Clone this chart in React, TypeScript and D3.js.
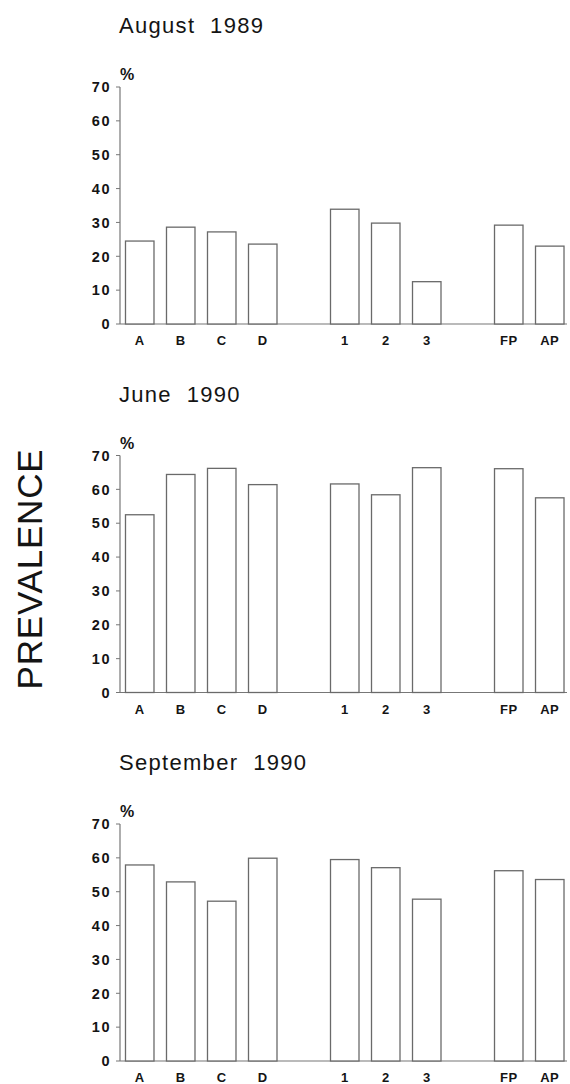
import React from "react";
import * as d3 from "d3";

const slots = ["A", "B", "C", "D", "gap1", "1", "2", "3", "gap2", "FP", "AP"];
const categories = ["A", "B", "C", "D", "1", "2", "3", "FP", "AP"];
const aug1989 = [24.5, 28.6, 27.2, 23.6, 33.9, 29.8, 12.5, 29.2, 23.0];
const jun1990 = [52.5, 64.4, 66.2, 61.4, 61.6, 58.4, 66.4, 66.1, 57.5];
const sep1990 = [57.9, 52.9, 47.2, 59.9, 59.5, 57.1, 47.8, 56.2, 53.6];
const yTicks = [0, 10, 20, 30, 40, 50, 60, 70];
const panelTitles = ["August 1989", "June 1990", "September 1990"];
const panelSeries = [aug1989, jun1990, sep1990];

const W = 570;
const H = 1084;
const axisX = 120;
const panelTops = [87, 455.5, 824];
const plotH = 237;

const x = d3
  .scaleBand<string>()
  .domain(slots)
  .range([axisX, 569.5])
  .paddingInner(0.305)
  .paddingOuter(0.134);

const SANS = "'Liberation Sans', Arial, Helvetica, sans-serif";
const INK = "#141414";
const BAR = "#6a6a6a";

function Panel({ top, title, values }: { top: number; title: string; values: number[] }) {
  const y = d3.scaleLinear().domain([0, 70]).range([top + plotH, top]);
  return (
    <g>
      <text
        x={axisX - 1}
        y={top - 54}
        fontFamily={SANS}
        fontSize={22}
        letterSpacing={1.3}
        fill={INK}
        style={{ whiteSpace: "pre" }}
      >
        {title.replace(" ", "  ")}
      </text>
      <text x={axisX} y={top - 7} fontFamily={SANS} fontSize={16} fontWeight="bold" fill={INK}>
        %
      </text>
      <line x1={axisX} x2={axisX} y1={y(70)} y2={y(0)} stroke="#777" strokeWidth={1.2} />
      {yTicks.map((t) => (
        <g key={t}>
          <line x1={axisX - 4} x2={axisX} y1={y(t)} y2={y(t)} stroke="#777" strokeWidth={1} />
          <text
            x={axisX - 9}
            y={y(t)}
            dy="0.36em"
            textAnchor="end"
            fontFamily={SANS}
            fontSize={14.5}
            fontWeight="bold"
            letterSpacing={1.5}
            fill={INK}
          >
            {t}
          </text>
        </g>
      ))}
      <line x1={axisX} x2={567} y1={y(0)} y2={y(0)} stroke="#777" strokeWidth={1.2} />
      {categories.map((c, i) => (
        <g key={c}>
          <rect
            x={x(c)}
            y={y(values[i])}
            width={x.bandwidth()}
            height={y(0) - y(values[i])}
            fill="#fff"
            stroke={BAR}
            strokeWidth={1.3}
          />
          <text
            x={(x(c) as number) + x.bandwidth() / 2}
            y={y(0) + 21}
            textAnchor="middle"
            fontFamily={SANS}
            fontSize={13}
            fontWeight="bold"
            letterSpacing={0.5}
            fill={INK}
          >
            {c}
          </text>
        </g>
      ))}
    </g>
  );
}

export default function App() {
  return (
    <svg
      width={W}
      height={H}
      viewBox={`0 0 ${W} ${H}`}
      style={{ position: "absolute", left: 0, top: 0, background: "#fff" }}
    >
      <rect x={0} y={0} width={W} height={H} fill="#fff" />
      {panelTitles.map((t, i) => (
        <Panel key={t} top={panelTops[i]} title={t} values={panelSeries[i]} />
      ))}
      <text
        transform={`translate(42, 569) rotate(-90)`}
        textAnchor="middle"
        fontFamily={SANS}
        fontSize={35}
        letterSpacing={0.8}
        fill={INK}
      >
        PREVALENCE
      </text>
    </svg>
  );
}
